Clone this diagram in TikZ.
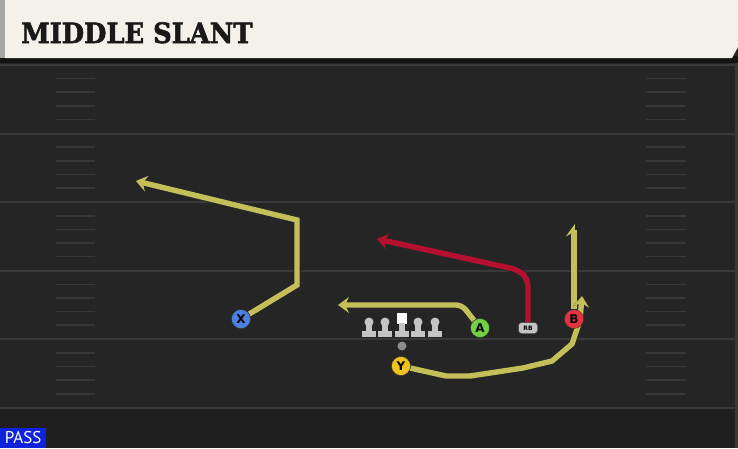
\documentclass[tikz,border=0pt]{standalone}
\usepackage{fontspec}
\usepackage{tikz}
\usetikzlibrary{arrows.meta}
\setsansfont{DejaVu Sans}
\newfontfamily\titlefont{DejaVu Serif}[BoldFeatures={FakeBold=2}]
\newfontfamily\tagfont{PT Sans}

\definecolor{field}{HTML}{252525}
\definecolor{yardln}{HTML}{3A3A3A}
\definecolor{hashln}{HTML}{383838}
\definecolor{cream}{HTML}{F4F1EA}
\definecolor{rte}{HTML}{C4BF58}
\definecolor{rbrte}{HTML}{B5102F}
\definecolor{xblue}{HTML}{4B80E2}
\definecolor{agreen}{HTML}{72D044}
\definecolor{bred}{HTML}{E4333F}
\definecolor{yyellow}{HTML}{F0C21E}
\definecolor{lineman}{HTML}{C4C4C4}
\definecolor{passblue}{HTML}{0F22DC}

\pgfdeclarelayer{turf}
\pgfdeclarelayer{paths}
\pgfsetlayers{turf,paths,main}

\begin{document}
\begin{tikzpicture}
[x=1pt,y=-1pt,line join=round,
player/.style = {draw=black!80, circle, minimum size=19pt, inner sep=0pt, font=\sffamily\bfseries\fontsize{12}{12}\selectfont},
route/.style = {draw=rte, line width=5.4pt, preaction={draw=black!85, line width=7pt}},
rbroute/.style = {route, draw=rbrte},
tip/.style = {-{Stealth[length=11pt,width=16pt,inset=4pt]}},
halftip/.style = {-{Stealth[length=11pt,width=16pt,inset=4pt,left]}},
]

\useasboundingbox (0,0) rectangle (738,448);

\begin{pgfonlayer}{turf}
% field and header
\fill [field] (0,0) rectangle (738,448);
\fill [field!85!black] (0,409) rectangle (738,448);
\fill [yardln] (735,60) rectangle (738,448);
\fill [black!92] (0,56) rectangle (738,63);
\fill [cream] (5,0) -- (738,0) -- (738,47) -- (732,58) -- (5,58) -- cycle;
\fill [black!35] (0,0) rectangle (5,58);

% yard lines and hash marks
\foreach \k in {0,...,5}{
  \draw [yardln, line width=2pt] (0,65+68.6*\k) -- (735,65+68.6*\k);
}
\foreach \k in {0,...,4}{
  \foreach \h in {1,...,4}{
    \draw [hashln, line width=1.6pt] (56,65+68.6*\k+13.6*\h) -- (95,65+68.6*\k+13.6*\h);
    \draw [hashln, line width=1.6pt] (646,65+68.6*\k+13.6*\h) -- (686,65+68.6*\k+13.6*\h);
  }
}
\end{pgfonlayer}

\node [anchor=base west, inner sep=0pt, text=black!90] (title) at (21,43)
  {\titlefont\bfseries\fontsize{28}{28}\selectfont\scalebox{0.92}[1]{MIDDLE SLANT}};

% players
\node (X) at (241,319)[player, fill=xblue] {X};
\node (A) at (480,328)[player, fill=agreen] {A};
\node (B) at (574,319)[player, fill=bred] {B};
\node (Y) at (401,366)[player, fill=yyellow] {Y};
\node (RB) at (528,328)[draw=black!80, fill=lineman, rounded corners=3pt, minimum width=19pt, minimum height=11pt, inner sep=0pt, font=\sffamily\bfseries\fontsize{6}{6}\selectfont] {RB};
\node (QB) at (402,346)[circle, fill=black!45, minimum size=9pt, inner sep=0pt] {};

% offensive line
\foreach \x in {369,385,418,435}{
  \fill [lineman] (\x,322) circle (4.5);
  \fill [lineman] (\x-2.6,322) rectangle (\x+2.6,332);
  \fill [lineman] (\x-7,331) rectangle (\x+7,337);
}
\node (C) at (402,318.5)[fill=white, minimum size=10.5pt, inner sep=0pt] {};
\fill [lineman] (399.4,323) rectangle (404.6,332);
\fill [lineman] (395,331) rectangle (409,337);

% routes
\begin{pgfonlayer}{paths}
\coordinate (x1) at (297,285);
\coordinate (x2) at (297,220);
\coordinate (x3) at (136,181);
\draw [route,tip] (X) -- (x1) -- (x2) -- (x3);

\coordinate (a1) at (462,305);
\coordinate (a2) at (338,305);
\draw [route,tip,rounded corners=6pt] (A) -- (a1) -- (a2);

\coordinate (r1) at (528,279);
\coordinate (r2) at (519,270);
\coordinate (r3) at (377,239);
\draw [rbroute,tip,rounded corners=8pt] (RB) -- (r1) -- (r2) -- (r3);

\coordinate (b1) at (574,224);
\draw [route,halftip] (B) -- (b1);

\coordinate (y1) at (446,376);
\coordinate (y2) at (470,376);
\coordinate (y3) at (523,368);
\coordinate (y4) at (552,361);
\coordinate (y5) at (572,344);
\coordinate (y6) at (580,320);
\coordinate (y7) at (582,296);
\draw [route,tip] (Y) -- (y1) -- (y2) -- (y3) -- (y4) -- (y5) -- (y6) -- (y7);
\end{pgfonlayer}

% play type tag
\node (pass) at (0,448)[anchor=south west, fill=passblue, text=white, minimum width=46pt, minimum height=20pt, inner sep=0pt, font=\tagfont\fontsize{17}{17}\selectfont] {PASS};

\end{tikzpicture}
\end{document}
